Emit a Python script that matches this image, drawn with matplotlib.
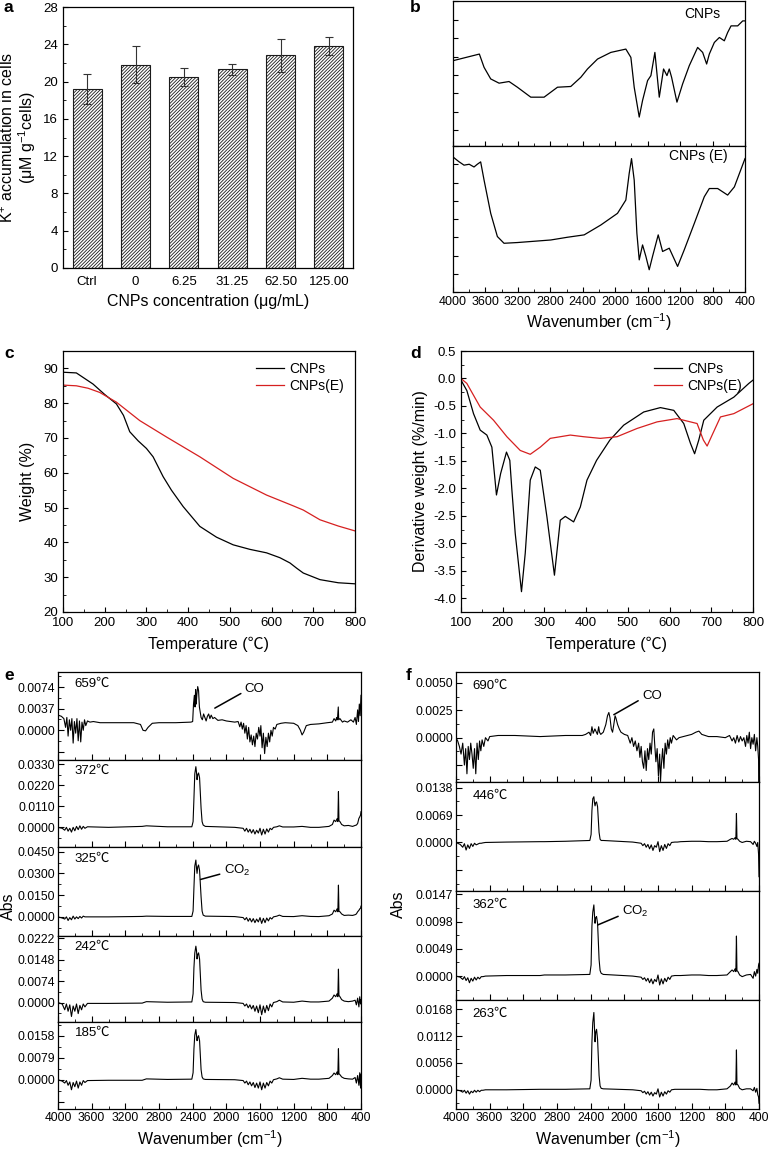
import numpy as np
import matplotlib
matplotlib.use('Agg')
from matplotlib import pyplot as plt
from matplotlib.ticker import MultipleLocator, FuncFormatter

plt.rcParams['font.family'] = ['Liberation Sans', 'Noto Sans CJK SC', 'DejaVu Sans']
plt.rcParams['mathtext.fontset'] = 'custom'
plt.rcParams['mathtext.rm'] = 'Liberation Sans'
plt.rcParams['mathtext.default'] = 'regular'
plt.rcParams['axes.unicode_minus'] = False
plt.rcParams['hatch.linewidth'] = 0.6
plt.rcParams['axes.linewidth'] = 0.9
plt.rcParams['xtick.direction'] = 'in'
plt.rcParams['ytick.direction'] = 'in'

# ---- (a) K+ accumulation
conc = ['Ctrl', '0', '6.25', '31.25', '62.50', '125.00']
k_mean = [19.2, 21.8, 20.5, 21.3, 22.8, 23.8]
k_err = [1.6, 2.0, 1.0, 0.63, 1.73, 1.0]

# ---- (b) FTIR, arbitrary transmittance units
wn_cnp = [4000, 3675, 3617, 3535, 3432, 3309, 3206, 3041, 2877, 2712, 2548, 2424, 2342,
          2218, 2054, 1869, 1807, 1766, 1704, 1663, 1601, 1560, 1511, 1457, 1404, 1362,
          1334, 1305, 1239, 1169, 1087, 984, 922, 873, 840, 778, 716, 655, 614, 572,
          490, 428, 400]
t_cnp = [3.78, 4.14, 3.42, 2.79, 2.56, 2.65, 2.34, 1.80, 1.80, 2.34, 2.38, 2.88, 3.33,
         3.87, 4.23, 4.41, 3.96, 2.34, 0.72, 1.62, 2.70, 2.97, 4.23, 1.80, 3.33, 2.97,
         3.33, 2.88, 1.53, 2.52, 3.51, 4.50, 4.23, 3.60, 4.14, 4.77, 5.04, 4.86, 5.31,
         5.67, 5.67, 5.94, 5.94]
wn_cnpe = [4000, 3930, 3864, 3800, 3741, 3700, 3659, 3617, 3535, 3453, 3371, 3206, 2795,
           2589, 2383, 2178, 1972, 1869, 1828, 1799, 1766, 1733, 1704, 1663, 1622, 1581,
           1540, 1470, 1416, 1334, 1231, 1149, 1025, 902, 840, 737, 614, 531, 400]
t_cnpe = [7.40, 7.15, 6.95, 7.00, 6.85, 7.00, 7.13, 6.13, 4.31, 3.04, 2.67, 2.71, 2.85,
          3.00, 3.13, 3.67, 4.31, 5.04, 6.49, 7.31, 6.13, 3.22, 1.76, 2.58, 1.95, 1.22,
          1.95, 3.13, 2.22, 2.40, 1.40, 2.31, 3.76, 5.22, 5.67, 5.67, 5.31, 5.76, 7.31]

# ---- (c) TG
tg_t = [100, 132, 172, 200, 228, 245, 260, 280, 300, 316, 340, 360, 388, 428, 468, 508,
        548, 588, 620, 644, 660, 676, 716, 760, 800]
tg_cnp = [88.9, 88.7, 85.5, 82.5, 79.8, 76.5, 71.8, 69.2, 67.0, 64.6, 58.9, 55.0, 50.3,
          44.6, 41.5, 39.3, 38.0, 37.0, 35.6, 34.1, 32.6, 31.2, 29.3, 28.4, 28.1]
tg_t_e = [100, 132, 160, 188, 228, 284, 348, 428, 508, 588, 650, 676, 716, 760, 800]
tg_cnpe = [85.2, 85.0, 84.3, 83.1, 80.3, 75.0, 70.3, 64.6, 58.4, 53.6, 50.6, 49.3, 46.5,
           44.7, 43.3]

# ---- (d) DTG
dtg_t = [100, 114, 130, 146, 162, 174, 185, 195, 209, 217, 222, 230, 245, 254, 266, 278,
         290, 306, 324, 338, 350, 370, 386, 402, 425, 457, 490, 538, 578, 610, 634, 650,
         660, 670, 682, 714, 754, 790, 800]
dtg_cnp = [-0.03, -0.22, -0.64, -0.94, -1.03, -1.25, -2.12, -1.73, -1.34, -1.49, -2.03,
           -2.82, -3.88, -3.18, -1.85, -1.61, -1.67, -2.52, -3.58, -2.58, -2.51, -2.61,
           -2.34, -1.85, -1.49, -1.12, -0.85, -0.61, -0.53, -0.58, -0.82, -1.18, -1.37,
           -1.12, -0.76, -0.52, -0.34, -0.09, -0.03]
dtg_t_e = [100, 114, 146, 178, 210, 242, 266, 290, 314, 338, 362, 394, 434, 474, 522, 570,
           618, 666, 681, 690, 702, 722, 754, 800]
dtg_cnpe = [0.0, -0.09, -0.52, -0.76, -1.06, -1.31, -1.38, -1.25, -1.09, -1.06, -1.03,
            -1.06, -1.09, -1.06, -0.91, -0.79, -0.73, -0.82, -1.12, -1.23, -1.03, -0.70,
            -0.64, -0.46]

# ---- (e) TG-FTIR spectra of CNPs, absorbance in units of 1e-4
e_temps = ['659℃', '372℃', '325℃', '242℃', '185℃']
e1_wn = [4000, 3960, 3930, 3910, 3895, 3880, 3865, 3850, 3835, 3820, 3805, 3790, 3775, 3760,
         3745, 3730, 3715, 3700, 3685, 3670, 3650, 3620, 3580, 3500, 3300, 3100, 3020, 2990,
         2960, 2930, 2880, 2800, 2600, 2420, 2400, 2390, 2380, 2372, 2365, 2358, 2350, 2340,
         2330, 2320, 2300, 2285, 2270, 2255, 2240, 2225, 2210, 2195, 2180, 2160, 2140, 2100,
         2050, 2000, 1950, 1900, 1860, 1840, 1825, 1810, 1795, 1780, 1765, 1750, 1735, 1720,
         1705, 1690, 1675, 1660, 1645, 1630, 1615, 1600, 1590, 1575, 1560, 1545, 1530, 1515,
         1500, 1485, 1470, 1455, 1440, 1420, 1400, 1350, 1300, 1200, 1150, 1120, 1100, 1080,
         1050, 1000, 900, 800, 740, 720, 700, 690, 680, 670, 665, 650, 620, 600, 560, 520,
         490, 470, 455, 440, 430, 420, 410, 400]
e1_ab = [26, 24, 20, 5, 22, -10, 18, 0, 20, -22, 15, -5, 20, -18, 16, -20, 14, 0, 18, 8, 16,
         14, 15, 13, 13, 13, 10, 0, -1, 5, 12, 13, 13, 14, 15, 45, 60, 40, 70, 45, 62, 75, 68,
         40, 22, 18, 28, 22, 16, 24, 28, 20, 26, 20, 22, 17, 18, 16, 15, 14, 15, 6, 14, 2,
         12, -5, 8, -15, 5, -20, -8, -25, -10, -28, -5, -15, 5, -10, 8, -30, -5, -40, -12,
         -28, -5, -20, 0, -10, 5, 2, 10, 12, 13, 12, 8, 0, -8, -3, 8, 10, 11, 13, 14, 20, 16,
         22, 18, 40, 18, 20, 14, 16, 14, 18, 14, 22, 10, 35, 15, 45, 25, 60]

co2_wn = [4000, 3950, 3920, 3900, 3880, 3860, 3840, 3820, 3800, 3780, 3760, 3740, 3720,
          3700, 3680, 3650, 3400, 3000, 2950, 2700, 2410, 2395, 2385, 2375, 2362, 2355,
          2348, 2340, 2330, 2318, 2300, 2288, 2275, 2250, 1900, 1800, 1780, 1760, 1740,
          1720, 1700, 1680, 1660, 1640, 1620, 1600, 1580, 1560, 1540, 1520, 1500, 1480,
          1460, 1440, 1400, 1370, 1330, 1200, 1100, 1000, 900, 780, 740, 720, 700, 685,
          675, 668, 662, 650, 630, 600, 550, 500, 470, 455, 440, 425, 415, 405, 400]
e2_ab = [0, -5, -15, 0, -20, -5, -25, 0, -18, 5, -12, 8, -10, 5, -5, 3, 0, 5, 8, 3, 3, 30,
         150, 280, 318, 290, 250, 275, 285, 260, 100, 30, 12, 5, 0, -5, -20, -5, -25, -10,
         -30, -12, -35, -15, -30, -5, -40, -10, -35, -8, -25, -5, -12, 0, 3, 8, 2, 2, 5, 0,
         0, 5, 15, 38, 30, 45, 30, 187, 35, 30, 15, 8, 10, 5, 10, 12, 20, 47, 55, 65, 82]
e3_ab = [0, -8, -15, 0, -25, -5, -20, 5, -15, 0, -12, 3, -8, 5, 0, 0, 0, 3, 5, 3, 3, 40,
         200, 350, 392, 340, 300, 345, 358, 320, 138, 40, 12, 5, 2, -5, -20, -5, -30, -10,
         -35, -12, -40, -15, -35, -5, -45, -10, -40, -8, -28, -5, -15, 0, 5, 12, 3, 2, 8, 3,
         2, 8, 20, 46, 35, 55, 35, 219, 40, 35, 20, 10, 12, 10, 15, 20, 35, 45, 55, 60, 74]
e4_ab = [0, -5, -25, -5, -30, -8, -48, -12, -30, -5, -38, -10, -25, -5, -15, -3, -3, -2, 3,
         1, 2, 30, 120, 170, 194, 180, 150, 165, 171, 150, 43, 12, 3, 1, 0, -3, -12, -5, -18,
         -8, -22, -10, -30, -12, -35, -8, -42, -12, -35, -10, -28, -5, -15, 0, 3, 8, 2, 1, 5,
         2, 2, 5, 15, 26, 20, 30, 20, 115, 25, 20, 10, 5, 3, 5, 8, -8, 15, -15, 20, -5, 10]
e5_ab = [0, -5, -12, -3, -20, -8, -36, -10, -25, -5, -30, -8, -20, -3, -10, -3, -2, -2, 3,
         1, 2, 25, 110, 160, 180, 160, 140, 152, 158, 140, 36, 10, 3, 1, 0, -3, -12, -5, -18,
         -8, -22, -10, -28, -12, -30, -8, -36, -12, -30, -10, -22, -5, -12, 0, 3, 7, 2, 1, 5,
         2, 2, 5, 15, 24, 18, 28, 18, 111, 22, 18, 10, 5, 3, 2, 8, -12, 15, -20, 25, -30, 20]
e_ylims = [(-51, 100), (-103, 353), (-132, 482), (-67, 229), (-105, 207)]
e_steps = [37, 110, 150, 74, 79]

# ---- (f) TG-FTIR spectra of CNPs(E), absorbance in units of 1e-4
f_temps = ['690℃', '446℃', '362℃', '263℃']
f1_wn = [4000, 3980, 3960, 3940, 3920, 3900, 3885, 3870, 3855, 3840, 3825, 3810, 3795, 3780,
         3765, 3750, 3735, 3720, 3705, 3690, 3670, 3650, 3620, 3600, 3500, 3300, 3000, 2700,
         2500, 2460, 2420, 2400, 2385, 2370, 2350, 2320, 2305, 2295, 2280, 2250, 2220, 2200,
         2184, 2170, 2155, 2140, 2125, 2110, 2100, 2080, 2060, 2040, 2000, 1960, 1930, 1910,
         1890, 1870, 1850, 1830, 1815, 1800, 1785, 1770, 1755, 1740, 1725, 1710, 1695, 1680,
         1665, 1650, 1640, 1625, 1610, 1595, 1580, 1570, 1560, 1545, 1530, 1515, 1500, 1485,
         1470, 1455, 1440, 1420, 1380, 1350, 1300, 1200, 1150, 1114, 1080, 1000, 900, 800,
         750, 720, 700, 680, 660, 640, 620, 600, 580, 560, 545, 530, 515, 500, 485, 470, 455,
         440, 425, 415, 405, 400]
f1_ab = [0, -3, -8, -15, -5, -25, -10, -33, -8, -20, -5, -15, -28, -10, -33, -5, -20, -3,
         -12, -2, -8, 0, -3, 1, 2, 2, 1, 2, 2, 3, 5, 2, 10, 4, 8, 3, 10, 5, 3, 5, 12, 20, 23,
         18, 8, 5, 12, 20, 18, 12, 8, 5, 3, 2, -5, 0, -8, -3, -12, -5, -18, -8, -22, -28,
         -12, -30, -10, -20, -5, -15, 5, 8, -5, -22, -10, -35, -15, -40, -25, -10, -28, -5,
         -15, -2, -10, 0, -5, 2, -2, 0, 1, 3, 5, 6, 3, 1, 1, 0, 2, -3, 0, -5, 2, -4, 1, -3, 0,
         -8, 2, -5, 5, -10, 0, -6, 3, -12, 0, -8, -20, -100]
f2_ab = [0, -5, -12, -3, -19, -6, -15, -3, -10, -2, -6, -4, -2, -2, -1, 0, 1, 2, 2, 3, 5,
         20, 80, 110, 115, 100, 92, 100, 102, 90, 25, 8, 5, 5, 1, -2, -8, -3, -12, -5, -16,
         -6, -20, -8, -12, 2, -23, -8, -20, -5, -15, -3, -8, 0, 1, 1, 2, 3, 3, 2, 2, 3, 8,
         10, 8, 12, 8, 73, 10, 8, 3, 0, 3, 2, -5, 3, -2, -10, 0, -30, -86]
f3_ab = [0, -2, -6, -1, -8, -3, -12, -4, -9, -2, -7, -2, -5, -1, -1, 0, 1, 1, 2, 2, 3, 20,
         90, 115, 128, 110, 95, 105, 107, 95, 30, 10, 5, 3, 0, -2, -6, -3, -9, -4, -12, -5,
         -14, -6, -10, 2, -16, -5, -14, -4, -10, -2, -6, 0, 1, 1, 1, 2, 2, 1, 1, 2, 8, 11, 8,
         13, 8, 72, 10, 8, 2, -1, 2, 3, -4, 8, 0, 12, 5, 20, 23]
f4_ab = [0, -2, -5, -1, -7, -2, -9, -3, -6, -1, -5, -1, -4, -1, -1, 0, 0, 1, 1, 1, 2, 20,
         100, 140, 161, 130, 100, 120, 126, 105, 30, 8, 3, 2, 0, -2, -6, -3, -9, -4, -11, -5,
         -13, -6, -9, 2, -15, -5, -13, -4, -9, -2, -5, 0, 1, 1, 1, 1, 1, 0, 0, 2, 8, 14, 10,
         16, 10, 83, 12, 10, 3, 0, 2, 2, -2, 5, -5, 3, -10, -15, -28]
f_ylims = [(-40.5, 60), (-122, 152), (-43, 153), (-40, 187)]
f_steps = [25, 69, 49, 56]

W, H = 768, 1150
fig = plt.figure(figsize=(W / 100, H / 100), dpi=100)


def px_axes(l, t, r, b):
    return fig.add_axes([l / W, 1 - b / H, (r - l) / W, (b - t) / H])


def px_text(x, y, s, **kw):
    fig.text(x / W, 1 - y / H, s, **kw)


TICK = 9.5
LAB = 11.5

# (a)
ax = px_axes(63, 7, 353, 268)
x = np.arange(len(conc))
ax.bar(x, k_mean, 0.6, color='white', edgecolor='#1a1a1a', hatch='//////////', linewidth=0.8)
ax.errorbar(x, k_mean, yerr=k_err, fmt='none', ecolor='#333333', elinewidth=0.8,
            capsize=3, capthick=0.8)
ax.set_xlim(-0.5, 5.5)
ax.set_ylim(0, 28)
ax.set_xticks(x, conc)
ax.yaxis.set_major_locator(MultipleLocator(4))
ax.yaxis.set_minor_locator(MultipleLocator(2))
ax.tick_params(axis='x', length=0, labelsize=TICK, pad=6)
ax.tick_params(axis='y', labelsize=TICK)
ax.set_xlabel('CNPs concentration (μg/mL)', fontsize=LAB, labelpad=4)
ax.set_ylabel('K$^{+}$ accumulation in cells\n(μM g$^{-1}$cells)', fontsize=LAB,
              labelpad=4, linespacing=1.0)

# (b)
axb1 = px_axes(453, 1, 745, 146)
axb2 = px_axes(453, 146, 745, 292)
axb1.plot(wn_cnp, t_cnp, color='black', lw=0.9)
axb2.plot(wn_cnpe, t_cnpe, color='black', lw=0.9)
axb1.set_ylim(-0.85, 7.02)
axb2.set_ylim(0, 8)
for a in (axb1, axb2):
    a.set_xlim(4000, 400)
    a.xaxis.set_major_locator(MultipleLocator(400))
    a.xaxis.set_minor_locator(MultipleLocator(200))
    a.yaxis.set_major_locator(MultipleLocator(1))
    a.set_yticklabels([])
    a.tick_params(labelsize=9)
axb1.tick_params(axis='x', labelbottom=False)
axb1.text(0.855, 0.91, 'CNPs', transform=axb1.transAxes, fontsize=10, ha='center', va='center')
axb2.text(0.84, 0.93, 'CNPs (E)', transform=axb2.transAxes, fontsize=10, ha='center',
          va='center')
axb2.tick_params(axis='x', pad=3)
axb2.set_xlabel('Wavenumber (cm$^{-1}$)', fontsize=LAB, labelpad=2)

# (c)
axc = px_axes(63, 351, 355, 612)
axc.plot(tg_t, tg_cnp, color='black', lw=0.9, label='CNPs')
axc.plot(tg_t_e, tg_cnpe, color='#d62020', lw=0.9, label='CNPs(E)')
axc.set_xlim(100, 800)
axc.set_ylim(20, 95)
axc.xaxis.set_major_locator(MultipleLocator(100))
axc.xaxis.set_minor_locator(MultipleLocator(50))
axc.yaxis.set_major_locator(MultipleLocator(10))
axc.yaxis.set_minor_locator(MultipleLocator(5))
axc.tick_params(labelsize=TICK)
axc.set_xlabel('Temperature (℃)', fontsize=LAB, labelpad=6)
axc.set_ylabel('Weight (%)', fontsize=LAB, labelpad=6)
axc.legend(loc='upper right', frameon=False, fontsize=10, handlelength=2.0,
           borderaxespad=0.4, labelspacing=0.2, handletextpad=0.4)

# (d)
axd = px_axes(461, 351, 753, 612)
axd.plot(dtg_t, dtg_cnp, color='black', lw=0.9, label='CNPs')
axd.plot(dtg_t_e, dtg_cnpe, color='#d62020', lw=0.9, label='CNPs(E)')
axd.set_xlim(100, 800)
axd.set_ylim(-4.25, 0.5)
axd.xaxis.set_major_locator(MultipleLocator(100))
axd.xaxis.set_minor_locator(MultipleLocator(50))
axd.yaxis.set_major_locator(MultipleLocator(0.5))
axd.yaxis.set_minor_locator(MultipleLocator(0.25))
axd.yaxis.set_major_formatter(FuncFormatter(lambda v, p: f'{v:.1f}'))
axd.tick_params(labelsize=TICK)
axd.set_xlabel('Temperature (℃)', fontsize=LAB, labelpad=6)
axd.set_ylabel('Derivative weight (%/min)', fontsize=LAB, labelpad=4)
axd.legend(loc='upper right', frameon=False, fontsize=10, handlelength=2.0,
           borderaxespad=0.4, labelspacing=0.2, handletextpad=0.4)


def abs_fmt(v, p):
    if v < -1e-9:
        return ''
    return f'{v / 1e4:.4f}'


def spectra_panel(l, r, edges, temps, wns, abss, ylims, steps):
    axes = []
    n = len(temps)
    for i in range(n):
        a = px_axes(l, edges[i], r, edges[i + 1])
        a.plot(wns[i], abss[i], color='black', lw=0.8)
        a.set_xlim(4000, 400)
        a.set_ylim(*ylims[i])
        a.xaxis.set_major_locator(MultipleLocator(400))
        a.xaxis.set_minor_locator(MultipleLocator(200))
        a.yaxis.set_major_locator(MultipleLocator(steps[i]))
        a.yaxis.set_minor_locator(MultipleLocator(steps[i] / 2))
        a.yaxis.set_major_formatter(FuncFormatter(abs_fmt))
        a.tick_params(labelsize=8.7, pad=2)
        a.tick_params(axis='y', length=4)
        a.tick_params(axis='x', length=4, labelbottom=(i == n - 1))
        a.text(0.055, 0.87, temps[i], transform=a.transAxes, fontsize=9.5, va='center')
        axes.append(a)
    axes[-1].set_xlabel('Wavenumber (cm$^{-1}$)', fontsize=LAB, labelpad=3)
    return axes


ae = spectra_panel(58, 361, [672, 760, 847, 936, 1022, 1109], e_temps,
                   [e1_wn, co2_wn, co2_wn, co2_wn, co2_wn],
                   [e1_ab, e2_ab, e3_ab, e4_ab, e5_ab], e_ylims, e_steps)
af = spectra_panel(456, 759, [672, 782, 891, 1000, 1109], f_temps,
                   [f1_wn, co2_wn, co2_wn, co2_wn],
                   [f1_ab, f2_ab, f3_ab, f4_ab], f_ylims, f_steps)

arrow = dict(arrowstyle='-', lw=1.1, color='black', shrinkA=1, shrinkB=0)
ae[0].annotate('CO', xy=(2137, 38), xytext=(1780, 71), fontsize=9.5, va='center',
               arrowprops=dict(arrow, relpos=(0, 0.3)))
ae[2].annotate('CO$_2$', xy=(2307, 258), xytext=(2029, 323), fontsize=9.5, va='center',
               arrowprops=dict(arrow, relpos=(0, 0.3)))
af[0].annotate('CO', xy=(2125, 21), xytext=(1788, 38), fontsize=9.5, va='center',
               arrowprops=dict(arrow, relpos=(0, 0.3)))
af[2].annotate('CO$_2$', xy=(2315, 92), xytext=(2025, 116), fontsize=9.5, va='center',
               arrowprops=dict(arrow, relpos=(0, 0.3)))

px_text(8, 906, 'Abs', rotation=90, fontsize=LAB, ha='center', va='center')
px_text(398, 904, 'Abs', rotation=90, fontsize=LAB, ha='center', va='center')

for lx, ly, s in [(4, 8, 'a'), (410, 8, 'b'), (4, 353, 'c'), (410, 353, 'd'),
                  (4, 676, 'e'), (406, 676, 'f')]:
    px_text(lx, ly, s, fontsize=12.5, fontweight='bold', ha='left', va='center')

fig.savefig('out.png', dpi=100)
